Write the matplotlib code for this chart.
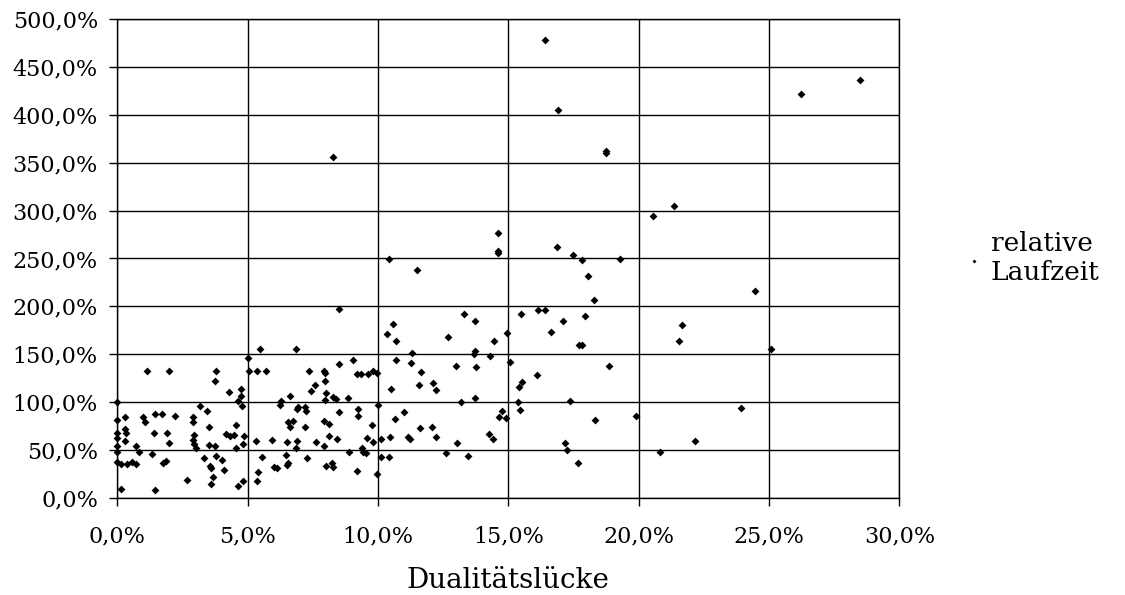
import matplotlib.pyplot as plt
from matplotlib.ticker import FuncFormatter

# Dualitätslücke (%) und relative Laufzeit (%)
gap = [1.12, 1.97, 3.78, 3.73, 4.29, 4.75, 4.76, 0, 4.64, 4.8, 3.19, 3.43, 0.29, 0.99, 1.08,
       1.45, 1.72, 2.23, 2.90, 2.90, 0, 0.31, 0.32, 0, 0, 0.31, 1.40, 1.92, 2.0, 2.96, 2.90,
       2.96, 3.01, 3.52, 4.55, 4.16, 4.31, 4.48, 4.86, 0, 0, 0.70, 0.85, 3.50, 3.73, 4.57,
       4.82, 0, 0.15, 0.37, 0.56, 0.73, 1.32, 1.74, 1.87, 3.32, 3.80, 4.0, 4.11, 3.57, 3.61,
       3.66, 3.61, 2.68, 0.15, 1.46, 4.62, 4.83,
       5.47, 6.84, 5.03, 5.05, 5.35, 5.69, 7.34, 7.94, 7.98, 8.52, 9.06, 9.18, 9.34, 9.63,
       9.82, 9.98, 7.97, 7.60, 7.42, 7.99, 7.97, 6.62, 8.26, 8.38, 8.85, 6.27, 6.24, 6.88,
       6.94, 7.21, 7.24, 8.49, 9.22, 9.22, 10.0, 6.56, 6.75, 6.62, 7.21, 7.93, 8.13, 9.76,
       5.31, 5.92, 6.50, 6.88, 6.84, 7.62, 7.93, 8.13, 8.43, 9.59, 9.82, 8.90, 9.39, 9.44,
       9.54, 5.56, 6.47, 7.29, 6.0, 6.14, 6.49, 6.54, 8.01, 8.25, 8.26, 5.41, 5.35, 9.21, 9.95,
       10.59, 10.33, 10.69, 12.70, 13.74, 14.45, 14.94, 11.32, 10.69, 11.26, 12.98, 13.68,
       13.74, 13.76, 14.30, 15.08, 11.66, 10.49, 11.59, 12.10, 12.24, 13.20, 13.74, 15.42,
       15.37, 15.44, 11.01, 10.64, 11.61, 12.07, 12.21, 11.14, 11.23, 10.47, 10.1, 13.04,
       14.24, 14.40, 14.66, 14.76, 14.91, 12.62, 13.44, 10.13, 10.44,
       18.3, 15.50, 16.13, 16.42, 17.10, 17.93, 16.63, 17.70, 17.82, 18.85, 16.11, 15.54,
       17.38, 18.33, 19.91, 17.19, 17.25, 17.67, 20.8,
       21.65, 21.56, 25.08, 23.94, 22.15,
       16.41, 16.91, 18.75, 18.75, 20.54, 14.60, 14.60, 14.60, 10.44, 11.51, 16.88, 17.49,
       17.83, 19.29, 18.07, 13.31,
       26.24, 28.5, 21.34, 24.46, 8.29, 8.50]

runtime = [132.7, 132.7, 132.7, 122, 110.8, 113.6, 106, 100, 101, 95.8, 96.2, 91, 84, 84.7, 79.4,
           87.8, 87.8, 85.4, 84.7, 79.1, 81.2, 71.4, 68, 67.2, 62.7, 59.6, 68, 68, 57.5, 65.9, 60,
           56.1, 51.9, 74.2, 75.6, 66.2, 64.1, 65.9, 64.1, 54, 47.4, 54, 48.1, 54.7, 54.4, 51.9,
           55.7, 37, 35.2, 35.2, 37, 35.2, 45.3, 36.6, 38.7, 41.1, 43.6, 39.4, 28.6, 33.4, 30.7,
           22, 14.6, 18.1, 8.7, 7.7, 12.5, 17.4,
           155.6, 155.6, 145.8, 132.6, 132.6, 132.6, 132.6, 132.6, 129.9, 139.6, 144.4, 129.2,
           129.2, 129.2, 132.6, 129.9, 121.9, 118, 111.8, 109.7, 102, 106.6, 105.6, 103.1, 103.8,
           100.7, 96.9, 92.4, 94.4, 94.4, 91, 89.9, 92.4, 85.4, 96.9, 79.5, 79.9, 74.3, 74.3,
           79.9, 77.1, 76, 59.7, 60.4, 58.3, 59.7, 51.7, 58.3, 54.2, 64.6, 61.8, 62.8, 58.7,
           47.9, 51.7, 48.3, 47.2, 42.4, 44.8, 41, 31.9, 30.6, 34, 36.8, 33.3, 36.8, 32.6, 26.4,
           17.4, 27.4, 25.3,
           181.3, 170.8, 164.2, 168.1, 184.4, 164.2, 172.6, 151.7, 144.1, 140.3, 137.5, 149.7,
           153.1, 136.1, 148.3, 142, 131.3, 113.2, 117.7, 119.4, 112.5, 100.3, 104.2, 115.3,
           100.3, 91.3, 89.6, 81.9, 72.6, 74.3, 63.9, 63.9, 61.8, 63.9, 61.1, 57.3, 66.3, 61.8,
           84, 90.6, 83.7, 46.5, 43.4, 42.7, 42.7,
           207, 192.4, 196.2, 196.2, 184.7, 189.9, 173.6, 159.7, 159.7, 137.5, 127.8, 121.2,
           101, 81.6, 85.8, 57.6, 49.7, 36.8, 48.3,
           180.6, 164.2, 155.6, 94.1, 59.4,
           478.4, 405.6, 362.4, 360.6, 294.4, 276.3, 258.2, 256, 249.8, 237.6, 261.9, 253.6,
           248, 249.4, 231.6, 191.6,
           422.3, 436.2, 304.9, 216, 356.4, 197.6]

x_ticks = [0, 5, 10, 15, 20, 25, 30]
y_ticks = [0, 50, 100, 150, 200, 250, 300, 350, 400, 450, 500]

plt.rcParams['font.family'] = 'DejaVu Serif'

fig = plt.figure(figsize=(11.25, 5.95), dpi=100)
ax = fig.add_axes([0.1043, 0.1635, 0.6951, 0.8041])

sc = ax.scatter(gap, runtime, marker='D', s=16, color='black', linewidths=0,
                zorder=3, clip_on=False)

ax.set_xlim(0, 30)
ax.set_ylim(0, 500)
ax.set_xticks(x_ticks)
ax.set_yticks(y_ticks)

pct = FuncFormatter(lambda v, pos: f"{v:.1f}%".replace('.', ','))
ax.xaxis.set_major_formatter(pct)
ax.yaxis.set_major_formatter(pct)
ax.tick_params(direction='out', length=6, width=1, color='black', labelsize=16)
ax.tick_params(axis='x', pad=14)
ax.tick_params(axis='y', pad=8)

ax.grid(True, color='black', linewidth=1)
ax.set_axisbelow(True)
for sp in ax.spines.values():
    sp.set_color('black')
    sp.set_linewidth(1)

ax.set_xlabel('Dualitätslücke', fontsize=20, labelpad=14)

fig.legend([sc], ['relative\nLaufzeit'], loc='center left',
           bbox_to_anchor=(0.848, 0.566), frameon=False, fontsize=19,
           handlelength=0.5, handletextpad=0.4, markerscale=0.5, borderpad=0)

fig.savefig('out.png', dpi=100)
